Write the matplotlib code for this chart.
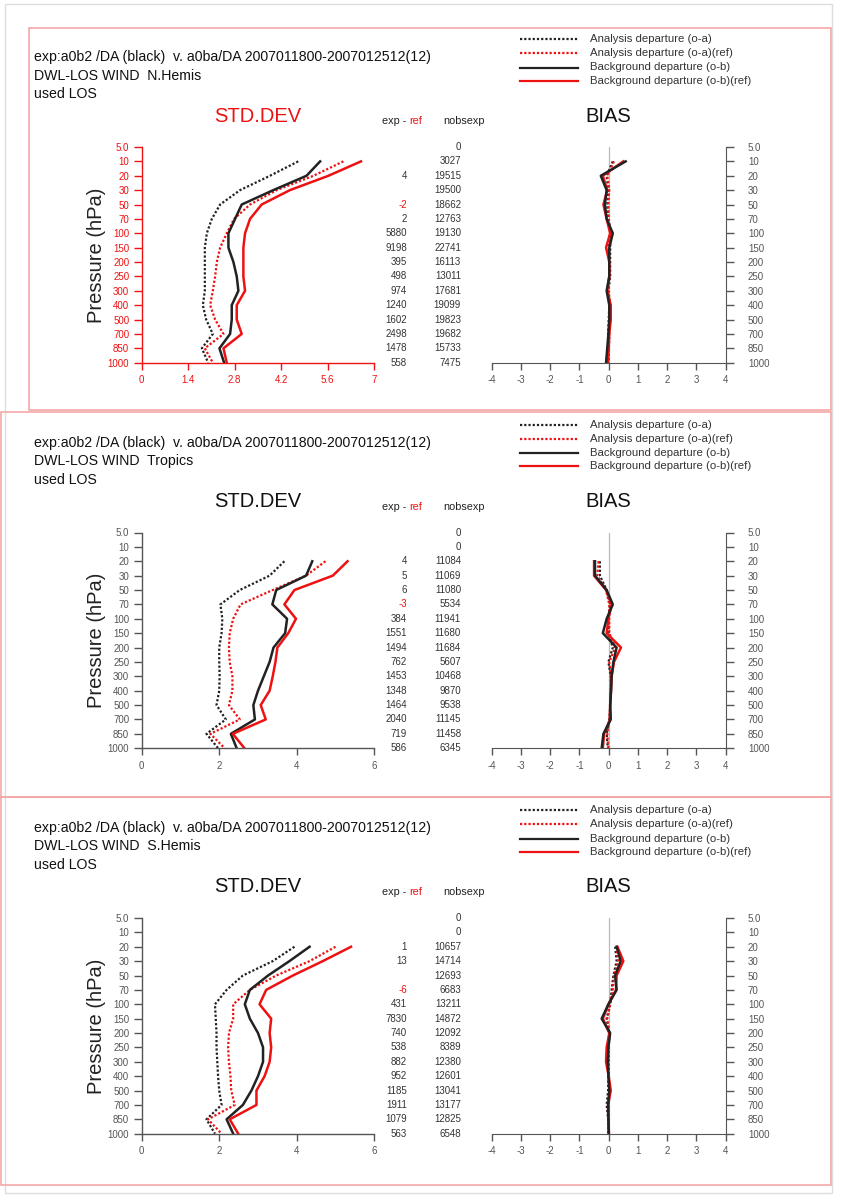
"""
"""
import numpy as np
import matplotlib
matplotlib.use('Agg')
import matplotlib.pyplot as plt
import matplotlib.patches as patches
import matplotlib.transforms as mtransforms

plt.rcParams['font.family'] = ['Liberation Sans', 'DejaVu Sans']

nan = np.nan
levels = ['5.0', '10', '20', '30', '50', '70', '100', '150', '200', '250',
          '300', '400', '500', '700', '850', '1000']
regions = ['N.Hemis', 'Tropics', 'S.Hemis']
header = 'exp:a0b2 /DA (black)  v. a0ba/DA 2007011800-2007012512(12)'

# std dev: o-a exp, o-a ref, o-b exp, o-b ref
std_oa_exp = [
    [nan, 4.71, 3.86, 2.96, 2.36, 2.11, 1.96, 1.90, 1.90, 1.90, 1.90, 1.84, 1.94, 2.14, 1.81, 2.00],
    [nan, nan, 3.68, 3.30, 2.53, 2.03, 2.08, 2.06, 2.00, 2.00, 2.01, 2.00, 1.93, 2.17, 1.67, 1.97],
    [nan, nan, 3.94, 3.38, 2.61, 2.19, 1.89, 1.91, 1.93, 1.93, 1.95, 1.97, 2.00, 2.06, 1.67, 1.89],
]
std_oa_ref = [
    [nan, 6.07, 5.17, 4.06, 3.26, 2.78, 2.56, 2.36, 2.26, 2.21, 2.14, 2.06, 2.21, 2.46, 1.90, 2.14],
    [nan, nan, 4.74, 4.24, 3.38, 2.55, 2.36, 2.27, 2.25, 2.27, 2.34, 2.34, 2.25, 2.53, 1.77, 2.14],
    [nan, nan, 5.00, 4.33, 3.47, 2.79, 2.36, 2.36, 2.25, 2.23, 2.25, 2.29, 2.31, 2.40, 1.71, 2.06],
]
std_ob_exp = [
    [nan, 5.37, 4.96, 3.96, 3.01, 2.81, 2.61, 2.61, 2.76, 2.86, 2.91, 2.71, 2.71, 2.66, 2.34, 2.48],
    [nan, nan, 4.40, 4.24, 3.47, 3.37, 3.75, 3.70, 3.40, 3.30, 3.15, 3.00, 2.88, 2.92, 2.30, 2.45],
    [nan, nan, 4.33, 3.81, 3.26, 2.79, 2.66, 2.79, 3.00, 3.13, 3.13, 3.00, 2.83, 2.61, 2.19, 2.36],
]
std_ob_ref = [
    [nan, 6.60, 5.62, 4.46, 3.61, 3.26, 3.11, 3.06, 3.06, 3.06, 3.11, 2.86, 2.86, 3.01, 2.46, 2.56],
    [nan, nan, 5.31, 4.93, 3.94, 3.68, 3.98, 3.78, 3.50, 3.45, 3.38, 3.30, 3.07, 3.20, 2.35, 2.65],
    [nan, nan, 5.40, 4.67, 3.90, 3.21, 3.04, 3.34, 3.30, 3.34, 3.30, 3.17, 2.96, 2.96, 2.27, 2.49],
]

# bias
bias_oa_exp = [
    [nan, 0.14, -0.07, -0.01, -0.05, -0.01, 0.07, 0.05, 0.05, 0.05, -0.01, 0.02, 0.00, -0.02, -0.01, -0.02],
    [nan, nan, -0.30, -0.30, -0.07, 0.05, -0.01, -0.01, 0.14, -0.01, 0.07, 0.07, 0.05, 0.02, -0.07, -0.03],
    [nan, nan, 0.22, 0.27, 0.16, 0.10, 0.05, -0.07, 0.02, -0.01, -0.01, -0.01, -0.02, -0.07, -0.02, -0.01],
]
bias_oa_ref = [
    [nan, 0.18, -0.05, 0.02, -0.02, 0.00, 0.05, 0.00, 0.02, 0.02, 0.00, 0.05, 0.04, 0.02, 0.01, 0.00],
    [nan, nan, -0.35, -0.39, -0.09, 0.02, 0.02, 0.02, 0.22, 0.02, 0.07, 0.07, 0.05, 0.02, -0.05, -0.01],
    [nan, nan, 0.25, 0.33, 0.18, 0.14, 0.05, -0.05, 0.02, 0.00, 0.00, 0.00, 0.02, 0.00, 0.00, 0.00],
]
bias_ob_exp = [
    [nan, 0.58, -0.27, -0.07, -0.13, -0.07, 0.14, 0.02, 0.02, 0.02, -0.07, 0.02, 0.02, -0.01, -0.05, -0.09],
    [nan, nan, -0.47, -0.47, -0.07, 0.14, -0.07, -0.20, 0.27, 0.16, 0.10, 0.08, 0.05, 0.07, -0.18, -0.24],
    [nan, nan, 0.27, 0.41, 0.22, 0.27, -0.01, -0.24, 0.05, -0.01, -0.03, -0.01, 0.02, -0.02, -0.01, 0.00],
]
bias_ob_ref = [
    [nan, 0.50, -0.20, -0.05, -0.18, -0.07, 0.05, -0.09, 0.02, 0.02, -0.05, 0.07, 0.07, 0.02, 0.00, -0.03],
    [nan, nan, -0.50, -0.50, -0.09, 0.10, -0.01, -0.07, 0.42, 0.18, 0.10, 0.08, 0.05, 0.05, -0.16, -0.20],
    [nan, nan, 0.30, 0.50, 0.27, 0.25, -0.01, -0.20, 0.02, -0.07, -0.09, 0.00, 0.07, -0.02, -0.01, 0.01],
]

exp_ref = [
    ['', '', '4', '', '-2', '2', '5880', '9198', '395', '498', '974', '1240', '1602', '2498', '1478', '558'],
    ['', '', '4', '5', '6', '-3', '384', '1551', '1494', '762', '1453', '1348', '1464', '2040', '719', '586'],
    ['', '', '1', '13', '', '-6', '431', '7830', '740', '538', '882', '952', '1185', '1911', '1079', '563'],
]
nobsexp = [
    [0, 3027, 19515, 19500, 18662, 12763, 19130, 22741, 16113, 13011, 17681, 19099, 19823, 19682, 15733, 7475],
    [0, 0, 11084, 11069, 11080, 5534, 11941, 11680, 11684, 5607, 10468, 9870, 9538, 11145, 11458, 6345],
    [0, 0, 10657, 14714, 12693, 6683, 13211, 14872, 12092, 8389, 12380, 12601, 13041, 13177, 12825, 6548],
]
std_ticks = [[0, 1.4, 2.8, 4.2, 5.6, 7], [0, 2, 4, 6], [0, 2, 4, 6]]
bias_ticks = [-4, -3, -2, -1, 0, 1, 2, 3, 4]
legend_labels = ['Analysis departure (o-a)', 'Analysis departure (o-a)(ref)',
                 'Background departure (o-b)', 'Background departure (o-b)(ref)']

W, H = 842, 1200
RED = '#ee1111'
BLK = '#222222'
GRAY = '#555555'
PINK = '#f5a8a8'
dotted = (0, (1, 0.9))


def fx(x):
    return x / W


def fy(y):
    return 1 - y / H


fig = plt.figure(figsize=(W / 100, H / 100), dpi=100)

# outer border
fig.add_artist(patches.Rectangle((fx(5), fy(1193)), fx(832) - fx(5), fy(4) - fy(1193),
                                 transform=fig.transFigure, fill=False, ec='#dddddd', lw=1))

panel_boxes = [(29, 28, 831, 410), (1, 412, 831, 797), (1, 797, 831, 1185)]
for (x0, y0, x1, y1) in panel_boxes:
    fig.add_artist(patches.Rectangle((fx(x0), fy(y1)), fx(x1) - fx(x0), fy(y0) - fy(y1),
                                     transform=fig.transFigure, fill=False, ec=PINK, lw=1.2))

idx = np.arange(len(levels))
for p in range(3):
    dy = 385.5 * p
    top, bot = 147 + dy, 362.7 + dy
    axc = RED if p == 0 else GRAY

    # header text
    fig.text(fx(34), fy(57 + dy), header, fontsize=10.2, va='center', color='#111111')
    fig.text(fx(34), fy(75.5 + dy), 'DWL-LOS WIND  ' + regions[p], fontsize=10.2, va='center', color='#111111')
    fig.text(fx(34), fy(94 + dy), 'used LOS', fontsize=10.2, va='center', color='#111111')
    fig.text(fx(258), fy(116 + dy), 'STD.DEV', fontsize=14.5, ha='center', va='center',
             color=RED if p == 0 else '#111111')
    fig.text(fx(608), fy(116 + dy), 'BIAS', fontsize=14.5, ha='center', va='center', color='#111111')
    fig.text(fx(409), fy(121 + dy), 'exp - ', fontsize=7.8, ha='right', va='center', color='#222222')
    fig.text(fx(409), fy(121 + dy), 'ref', fontsize=7.8, ha='left', va='center', color=RED)
    fig.text(fx(464), fy(121 + dy), 'nobsexp', fontsize=7.8, ha='center', va='center', color='#222222')

    # legend
    styles = [(BLK, dotted), (RED, dotted), (BLK, '-'), (RED, '-')]
    for k, (c, ls) in enumerate(styles):
        yy = fy([39, 53, 67.5, 81][k] + dy)
        fig.add_artist(plt.Line2D([fx(520), fx(578)], [yy, yy], transform=fig.transFigure,
                                  color=c, ls=ls, lw=1.6))
        fig.text(fx(590), yy, legend_labels[k], fontsize=8.2, va='center', color='#333333')

    # std dev axes
    ax = fig.add_axes([fx(141.7), fy(bot), fx(374.3) - fx(141.7), fy(top) - fy(bot)])
    ax.plot(std_oa_exp[p], idx, color=BLK, ls=dotted, lw=1.6)
    ax.plot(std_oa_ref[p], idx, color=RED, ls=dotted, lw=1.6)
    ax.plot(std_ob_exp[p], idx, color=BLK, lw=1.8)
    ax.plot(std_ob_ref[p], idx, color=RED, lw=1.8)
    ax.set_ylim(15, 0)
    ax.set_xlim(std_ticks[p][0], std_ticks[p][-1])
    ax.set_xticks(std_ticks[p])
    ax.set_xticklabels([('%g' % v) for v in std_ticks[p]])
    ax.set_yticks(idx)
    ax.set_yticklabels(levels)
    for s in ['top', 'right']:
        ax.spines[s].set_visible(False)
    for s in ['left', 'bottom']:
        ax.spines[s].set_color(axc)
        ax.spines[s].set_linewidth(1)
    ax.tick_params(colors=axc, labelsize=7, length=6, width=1, pad=3)
    ax.tick_params(axis='x', pad=4, length=5)
    ax.patch.set_alpha(0)
    ax.set_ylabel('Pressure (hPa)', fontsize=14.5, color='#222222', labelpad=1)

    # number columns
    tr = mtransforms.blended_transform_factory(fig.transFigure, ax.transData)
    for i in range(len(levels)):
        v = exp_ref[p][i]
        if v:
            fig.text(fx(407), i, v, transform=tr, fontsize=7, ha='right', va='center',
                     color=RED if v.startswith('-') else '#333333')
        fig.text(fx(461), i, str(nobsexp[p][i]), transform=tr, fontsize=7, ha='right',
                 va='center', color='#333333')

    # bias axes
    bx = fig.add_axes([fx(491.7), fy(bot), fx(725.7) - fx(491.7), fy(top) - fy(bot)])
    bx.axvline(0, color='#bbbbbb', lw=0.9)
    bx.plot(bias_oa_exp[p], idx, color=BLK, ls=dotted, lw=1.6)
    bx.plot(bias_oa_ref[p], idx, color=RED, ls=dotted, lw=1.6)
    bx.plot(bias_ob_ref[p], idx, color=RED, lw=1.8)
    bx.plot(bias_ob_exp[p], idx, color=BLK, lw=1.8)
    bx.set_ylim(15, 0)
    bx.set_xlim(-4, 4)
    bx.set_xticks(bias_ticks)
    bx.set_xticklabels([str(v) for v in bias_ticks])
    bx.set_yticks(idx)
    bx.set_yticklabels(levels)
    bx.yaxis.tick_right()
    for s in ['top', 'left']:
        bx.spines[s].set_visible(False)
    for s in ['right', 'bottom']:
        bx.spines[s].set_color(GRAY)
    bx.tick_params(colors=GRAY, labelsize=7, length=6, width=1, pad=3)
    bx.tick_params(axis='x', pad=4, length=5)
    bx.tick_params(axis='y', pad=10)
    bx.patch.set_alpha(0)

fig.savefig('out.png', dpi=100)
